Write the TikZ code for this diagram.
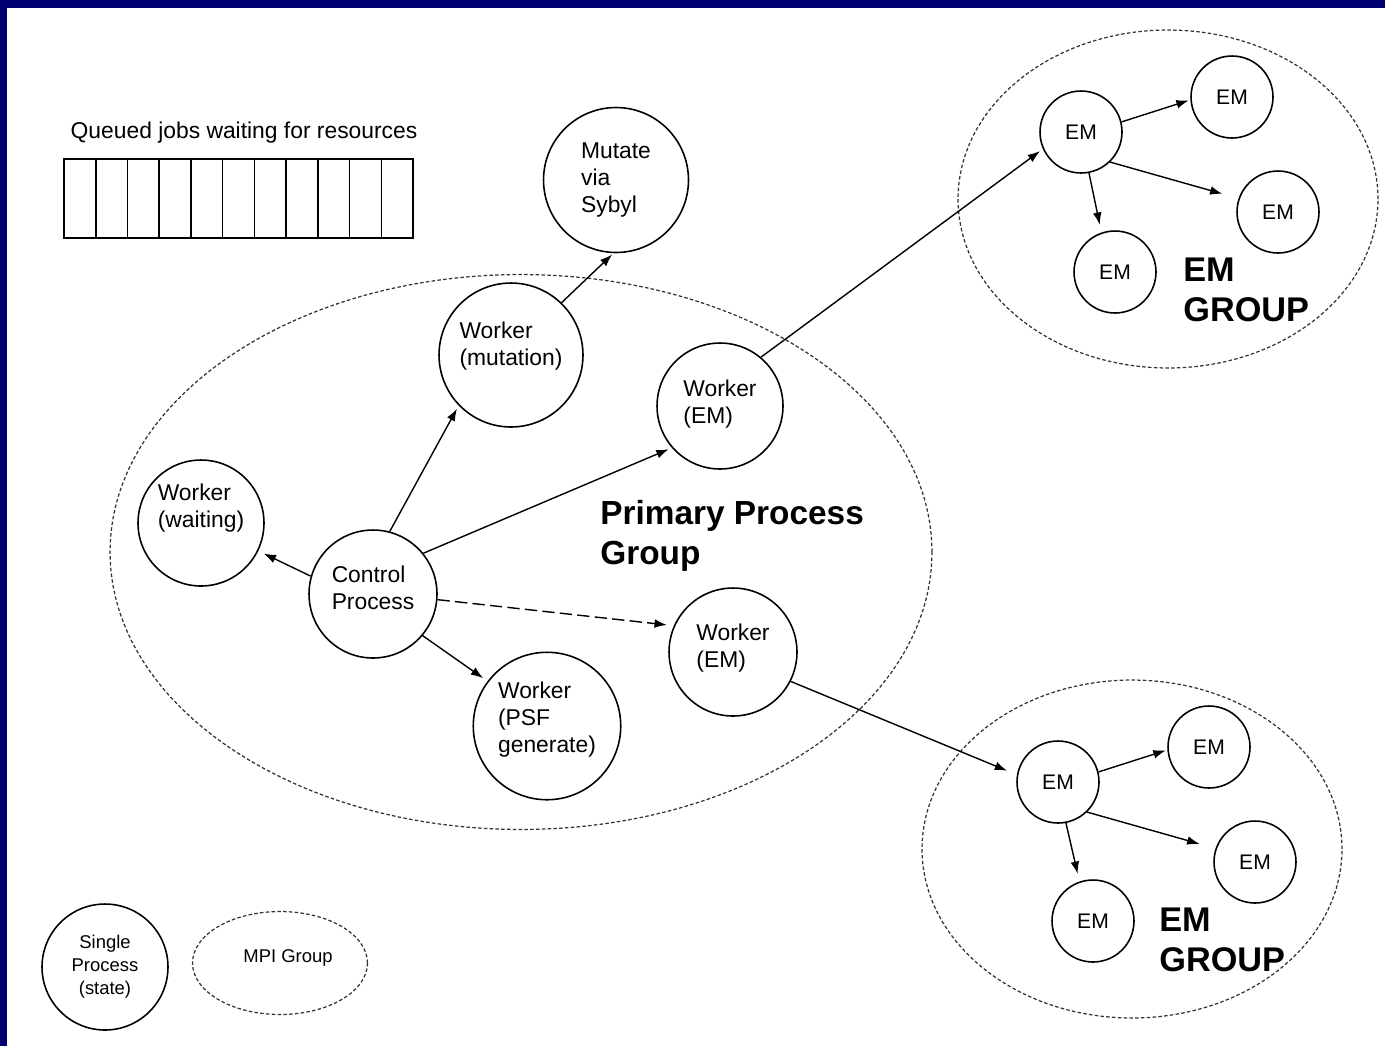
\documentclass[tikz,border=0pt]{standalone}
\usepackage{fontspec}
\setmainfont{Liberation Sans}
\usetikzlibrary{arrows.meta,shapes.geometric}
\definecolor{framenavy}{RGB}{0,0,112}

\tikzset{
  proc/.style={circle, draw, line width=0.9pt, inner sep=0pt, align=left,
    text depth=0.45cm, font=\fontsize{13}{15.3}\selectfont},
  emproc/.style={circle, draw, line width=0.9pt, inner sep=0pt,
    minimum size=1.64cm, font=\fontsize{12}{14}\selectfont},
  mpigroup/.style={ellipse, draw=black!80, line width=0.7pt,
    dash pattern=on 2pt off 1.3pt, inner sep=0pt},
  flow/.style={-{Latex[length=7pt,width=5pt]}, line width=0.8pt},
  grouplabel/.style={anchor=west, inner sep=0pt, align=left,
    font=\bfseries\fontsize{19}{23}\selectfont}
}

\begin{document}
\begin{tikzpicture}[x=0.02cm, y=-0.02cm]
  \useasboundingbox (0,0) rectangle (1385,1046);
  \fill[framenavy] (0,0) rectangle (1385,1046);
  \fill[white] (7,8) rectangle (1385,1046);

  % queue of jobs
  \node[font=\fontsize{13}{15}\selectfont] (qtitle) at (244,133) {Queued jobs waiting for resources};
  \node[draw, line width=0.9pt, inner sep=0pt, minimum width=6.98cm, minimum height=1.58cm] (queue) at (238.5,198.5) {};
  \foreach \i in {1,...,10}
    \draw[line width=0.9pt] ({64+\i*31.73},159) -- ({64+\i*31.73},238);

  % groups
  \node[mpigroup, minimum width=16.44cm, minimum height=11.1cm] (primary) at (521,552) {};
  \node[mpigroup, minimum width=8.4cm, minimum height=6.76cm] (groupu) at (1168,199) {};
  \node[mpigroup, minimum width=8.4cm, minimum height=6.76cm] (groupl) at (1132,849) {};
  \node[grouplabel] (plabel) at (600,536) {Primary Process\\Group};
  \node[grouplabel, font=\bfseries\fontsize{19.5}{23}\selectfont] (ulabel) at (1183,290) {EM\\GROUP};
  \node[grouplabel, font=\bfseries\fontsize{19.5}{23}\selectfont] (llabel) at (1159,940) {EM\\GROUP};

  % primary process group
  \node[proc, minimum size=2.9cm, text depth=0.1cm] (mutate) at (616,180) {Mutate\\via\\Sybyl};
  \node[proc, minimum size=2.88cm] (wmut) at (511,355) {Worker\\(mutation)};
  \node[proc, minimum size=2.52cm, text depth=0.17cm] (wemu) at (720,406) {Worker\\(EM)};
  \node[proc, minimum size=2.52cm, text depth=0.69cm] (wwait) at (201,523) {Worker\\(waiting)};
  \node[proc, minimum size=2.56cm, text depth=0.25cm] (ctrl) at (373,594) {Control\\Process};
  \node[proc, minimum size=2.56cm, text depth=0.25cm] (weml) at (733,652) {Worker\\(EM)};
  \node[proc, minimum size=2.95cm, text depth=0.35cm] (wpsf) at (547,726) {Worker\\(PSF\\generate)};

  \draw[flow, shorten >=2pt] (ctrl.75) -- (wmut.224);
  \draw[flow, shorten >=2pt] (ctrl.39) -- (wemu.221);
  \draw[flow, shorten >=3.4pt] (ctrl.164) -- (wwait.334);
  \draw[flow, shorten >=4pt, dash pattern=on 7pt off 3pt] (ctrl.355) -- (weml.156);
  \draw[flow, shorten >=3pt] (ctrl.320) -- (wpsf.143);
  \draw[flow, shorten >=1pt] (wmut.46) -- (mutate.268);

  % upper EM group
  \node[emproc] (emu) at (1081,132) {EM};
  \node[emproc] (emua) at (1232,97) {EM};
  \node[emproc] (emub) at (1278,212) {EM};
  \node[emproc] (emuc) at (1115,272) {EM};
  \draw[flow, shorten >=2pt] (wemu.50) -- (emu.204);
  \draw[flow, shorten >=1pt] (emu.14) -- (emua.184);
  \draw[flow, shorten >=9.5pt] (emu.314) -- (emub.161);
  \draw[flow, shorten >=4.5pt] (emu.281) -- (emuc.109);

  % lower EM group
  \node[emproc] (eml) at (1058,782) {EM};
  \node[emproc] (emla) at (1209,747) {EM};
  \node[emproc] (emlb) at (1255,862) {EM};
  \node[emproc] (emlc) at (1093,921) {EM};
  \draw[flow, shorten >=6pt] (weml.333) -- (eml.170);
  \draw[flow, shorten >=1pt] (eml.14) -- (emla.184);
  \draw[flow, shorten >=9.5pt] (eml.314) -- (emlb.161);
  \draw[flow, shorten >=4.5pt] (eml.281) -- (emlc.109);

  % legend
  \node[circle, draw, line width=0.9pt, inner sep=0pt, minimum size=2.52cm, align=center,
    font=\fontsize{10.5}{13}\selectfont] (single) at (105,967) {Single\\Process\\(state)};
  \node[mpigroup, minimum width=3.5cm, minimum height=2.06cm, text depth=0.26cm,
    font=\fontsize{10.5}{13}\selectfont] (mpi) at (280,963) {\hspace*{0.32cm}MPI Group};
\end{tikzpicture}
\end{document}
